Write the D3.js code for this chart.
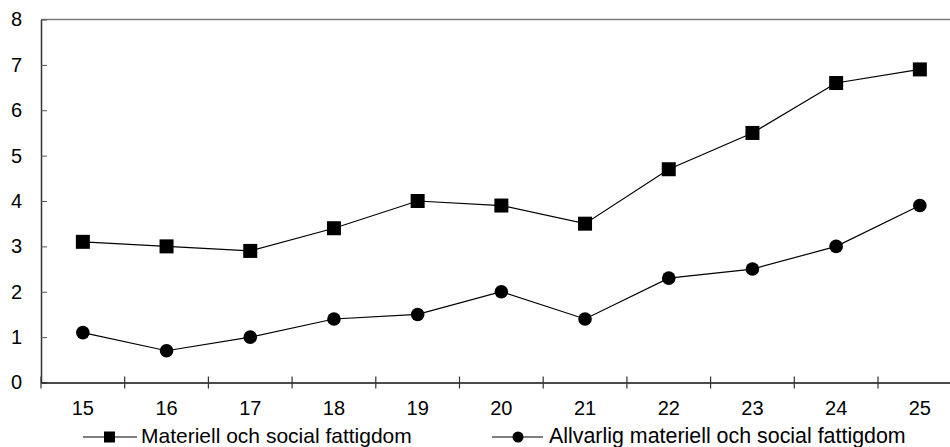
<!DOCTYPE html>
<html><head><meta charset="utf-8">
<script src="https://cdn.jsdelivr.net/npm/d3@7"></script>
<style>body{margin:0;background:#fff}svg{display:block}text{font-family:"Liberation Sans",Arial,sans-serif;fill:#000}</style>
</head><body>
<svg id="c" width="950" height="447"></svg>
<script>
const categories = ["15","16","17","18","19","20","21","22","23","24","25"];
const seriesNames = ["Materiell och social fattigdom","Allvarlig materiell och social fattigdom"];
const materiell = [3.1,3.0,2.9,3.4,4.0,3.9,3.5,4.7,5.5,6.6,6.9];
const allvarlig = [1.1,0.7,1.0,1.4,1.5,2.0,1.4,2.3,2.5,3.0,3.9];
const yTicks = [0,1,2,3,4,5,6,7,8];

const svg = d3.select("#c");
const x = d3.scaleBand().domain(categories).range([41, 961.7]);
const y = d3.scaleLinear().domain([0, 8]).range([382.5, 19.5]);

// top border line at max
svg.append("line").attr("x1",41).attr("x2",950).attr("y1",y(8)).attr("y2",y(8))
  .attr("stroke","#7a7a7a").attr("stroke-width",1.5);

// y axis
const ya = svg.append("g").attr("transform","translate(41,0)")
  .call(d3.axisLeft(y).tickValues(yTicks).tickSizeInner(-6).tickSizeOuter(0).tickPadding(19));
ya.select(".domain").attr("stroke","#333").attr("stroke-width",1.5);
ya.selectAll(".tick line").attr("stroke","#555");
ya.selectAll("text").style("font-size","20px").attr("fill","#000");

// x axis
const xa = svg.append("g").attr("transform",`translate(0,${y(0)})`)
  .call(d3.axisBottom(x).tickSize(0).tickPadding(18.3));
xa.select(".domain").attr("stroke","#111").attr("stroke-width",1.5);
xa.selectAll("text").style("font-size","20px").attr("fill","#000");
// category boundary ticks
const bounds = categories.map((c,i)=>x(c)).concat([x.range()[1]]);
xa.selectAll(".bt").data(bounds).enter().append("line").attr("class","bt")
  .attr("x1",d=>d).attr("x2",d=>d).attr("y1",-6).attr("y2",6).attr("stroke","#333").attr("stroke-width",1.2);

const cx = c => x(c) + x.bandwidth()/2;
const line = d3.line().x((d,i)=>cx(categories[i])).y(d=>y(d));

svg.append("path").attr("d",line(materiell)).attr("fill","none").attr("stroke","#000").attr("stroke-width",1.2);
svg.append("path").attr("d",line(allvarlig)).attr("fill","none").attr("stroke","#000").attr("stroke-width",1.2);

svg.selectAll(".sq").data(materiell).enter().append("rect")
  .attr("x",(d,i)=>cx(categories[i])-7).attr("y",d=>y(d)-7).attr("width",14).attr("height",14).attr("fill","#000");
svg.selectAll(".ci").data(allvarlig).enter().append("circle")
  .attr("cx",(d,i)=>cx(categories[i])).attr("cy",d=>y(d)).attr("r",6.8).attr("fill","#000");

// legend
const ly = 437;
const l1 = svg.append("g");
l1.append("line").attr("x1",83).attr("x2",137).attr("y1",ly).attr("y2",ly).attr("stroke","#000").attr("stroke-width",1.2);
l1.append("rect").attr("x",104).attr("y",ly-5.5).attr("width",11).attr("height",11).attr("fill","#000");
l1.append("text").attr("x",141).attr("y",443).style("font-size","21px").text(seriesNames[0]);
const l2 = svg.append("g");
l2.append("line").attr("x1",492).attr("x2",543).attr("y1",ly).attr("y2",ly).attr("stroke","#000").attr("stroke-width",1.2);
l2.append("circle").attr("cx",518).attr("cy",ly).attr("r",5.5).attr("fill","#000");
l2.append("text").attr("x",549).attr("y",443).style("font-size","21.4px").text(seriesNames[1]);
</script>
</body></html>
